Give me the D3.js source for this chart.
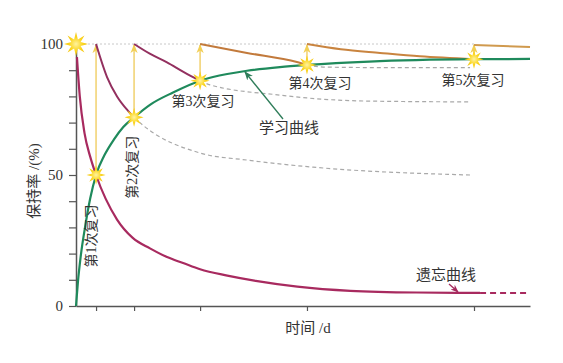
<!DOCTYPE html>
<html>
<head>
<meta charset="UTF-8">
<style>
  * { margin: 0; padding: 0; }
  body { background: #fff; }
  svg { display: block; }
  text { font-family: "Liberation Serif", "Noto Sans CJK SC", serif; fill: #333; }
</style>
<script src="https://cdn.jsdelivr.net/npm/d3@7"></script>
</head>
<body>
<svg id="chart" width="563" height="363"></svg>
<script>
// review days (tick positions) and retention at each review
var reviewDays = [1.06, 3.07, 6.56, 12.21, 21.04];
var reviewValues = [50, 72, 86, 92, 94.2];
var reviewLabels = ["第1次复习", "第2次复习", "第3次复习", "第4次复习", "第5次复习"];
var yTicks = [0, 10, 20, 30, 40, 50, 60, 70, 80, 90, 100];
var yTickLabels = { 0: "0", 50: "50", 100: "100" };

// learning curve
var learnDays = [0, 0.1, 0.25, 0.5, 0.75, 1.06, 1.5, 2, 2.5, 3.07, 3.91, 5.13, 6.56, 7.24, 9.04, 10.78, 12.21, 15.5, 21.04, 24];
var learnVals = [0, 9, 19, 31, 41, 50, 57.5, 63.5, 68.3, 72, 76.8, 81.5, 86, 87.4, 89.8, 91.2, 92, 93.3, 94.2, 94.3];

// forgetting curve without review
var forgetDays = [0.05, 0.2, 0.45, 0.75, 1.06, 2.17, 3.0, 3.91, 4.81, 5.66, 6.56, 8, 9.5, 11.7, 14.5, 18, 21.36];
var forgetVals = [95, 80, 66, 57, 50, 33, 26, 22, 18.7, 16.4, 14, 11.6, 9.6, 7.4, 5.8, 5.15, 5];
var forgetTailDays = [21.36, 24];
var forgetTailVals = [5, 5];

// forgetting after each review (solid part)
var decay1Days = [1.06, 1.64, 2.17, 2.75, 3.07];
var decay1Vals = [100, 87.4, 80, 74.5, 72];
var decay2Days = [3.07, 3.9, 4.81, 5.7, 6.56];
var decay2Vals = [100, 96.3, 93, 89.3, 86];
var decay3Days = [6.56, 9.04, 11.68, 12.21];
var decay3Vals = [100, 96.6, 93.1, 92];
var decay4Days = [12.21, 14, 16.07, 18.18, 21.04];
var decay4Vals = [100, 98, 96.6, 95.3, 94.2];
var decay5Days = [21.04, 24];
var decay5Vals = [99.6, 98.9];

// forgetting continuations if not reviewed again (dashed)
var cont1Days = [3.07, 3.54, 6.56, 9.04, 12.53, 20.83];
var cont1Vals = [72, 69, 58.4, 55.7, 53, 50];
var cont2Days = [6.56, 7.08, 10.78, 12.21, 15.54, 20.83];
var cont2Vals = [86, 84.4, 80.5, 79.4, 78.2, 77.9];
var cont3Days = [12.21, 13.06, 16.07, 20.83];
var cont3Vals = [92, 91.2, 91, 91];

var svg = d3.select("#chart");
var x = d3.scaleLinear().domain([0, 24]).range([76, 530]);
var y = d3.scaleLinear().domain([0, 100]).range([306, 44]);

function zip(a, b) { return a.map(function(d, i) { return [d, b[i]]; }); }

var line = d3.line()
  .x(function(d) { return x(d[0]); })
  .y(function(d) { return y(d[1]); })
  .curve(d3.curveMonotoneX);

var defs = svg.append("defs");
function marker(id, color, size) {
  defs.append("marker")
    .attr("id", id)
    .attr("viewBox", "0 0 10 10")
    .attr("refX", 9).attr("refY", 5)
    .attr("markerWidth", size).attr("markerHeight", size)
    .attr("markerUnits", "userSpaceOnUse")
    .attr("orient", "auto")
    .append("path")
    .attr("d", "M0,1 L10,5 L0,9 L3,5 Z")
    .attr("fill", color);
}
marker("arr-yellow", "#f2cf55", 9);
marker("arr-green", "#2f7d5a", 9);
marker("arr-red", "#a3285c", 8);

var grad = defs.append("radialGradient").attr("id", "star-grad");
grad.append("stop").attr("offset", "0%").attr("stop-color", "#fff3a0");
grad.append("stop").attr("offset", "55%").attr("stop-color", "#fbd51f");
grad.append("stop").attr("offset", "100%").attr("stop-color", "#f4c40e");

// dotted 100% reference
svg.append("line")
  .attr("x1", x(0)).attr("x2", x(reviewDays[4]))
  .attr("y1", y(100)).attr("y2", y(100))
  .attr("stroke", "#c8c8c8").attr("stroke-width", 1)
  .attr("stroke-dasharray", "2,2");

// axes
var yAxis = d3.axisLeft(y).tickValues(yTicks).tickSize(7).tickSizeOuter(0).tickPadding(6)
  .tickFormat(function(d) { return yTickLabels[d] || ""; });
var gy = svg.append("g").attr("transform", "translate(" + x(0) + ",0)").call(yAxis);

var xAxis = d3.axisBottom(x).tickValues(reviewDays).tickSize(5).tickSizeOuter(0).tickFormat("");
var gx = svg.append("g").attr("transform", "translate(0," + y(0) + ")").call(xAxis);

[gx, gy].forEach(function(g) {
  g.selectAll(".domain").attr("stroke", "#555").attr("stroke-width", 1.5);
  g.selectAll(".tick line").attr("stroke", "#555").attr("stroke-width", 1.2);
  g.selectAll(".tick text").attr("font-size", 15).attr("fill", "#333")
    .attr("font-family", "Liberation Serif, serif");
});

// dashed continuations
[[cont1Days, cont1Vals], [cont2Days, cont2Vals], [cont3Days, cont3Vals]].forEach(function(c) {
  svg.append("path")
    .attr("d", line(zip(c[0], c[1])))
    .attr("fill", "none").attr("stroke", "#a9a9a9")
    .attr("stroke-width", 1.2).attr("stroke-dasharray", "4,3");
});

// yellow review arrows
reviewDays.forEach(function(d, i) {
  svg.append("line")
    .attr("x1", x(d)).attr("x2", x(d))
    .attr("y1", y(reviewValues[i]) - 6).attr("y2", y(100) + 1)
    .attr("stroke", "#f2d477").attr("stroke-width", 1.6)
    .attr("marker-end", "url(#arr-yellow)");
});

// forgetting curves
svg.append("path").attr("d", line(zip(forgetDays, forgetVals)))
  .attr("fill", "none").attr("stroke", "#a82a5f").attr("stroke-width", 2.2);
svg.append("path").attr("d", line(zip(forgetTailDays, forgetTailVals)))
  .attr("fill", "none").attr("stroke", "#a82a5f").attr("stroke-width", 2)
  .attr("stroke-dasharray", "6,4");

var decays = [
  [decay1Days, decay1Vals, "#93305f"],
  [decay2Days, decay2Vals, "#93305f"],
  [decay3Days, decay3Vals, "#c27a3c"],
  [decay4Days, decay4Vals, "#c9843f"],
  [decay5Days, decay5Vals, "#d09a4e"]
];
decays.forEach(function(c) {
  svg.append("path").attr("d", line(zip(c[0], c[1])))
    .attr("fill", "none").attr("stroke", c[2]).attr("stroke-width", 2);
});

// learning curve
svg.append("path").attr("d", line(zip(learnDays, learnVals)))
  .attr("fill", "none").attr("stroke", "#1f8a5c").attr("stroke-width", 2.2);

// stars
function starPath(r1, r2, n) {
  var pts = d3.range(n * 2).map(function(i) {
    var a = i * Math.PI / n - Math.PI / 2;
    var r = i % 2 ? r2 : r1;
    return [Math.cos(a) * r, Math.sin(a) * r];
  });
  return "M" + pts.join("L") + "Z";
}
svg.append("path")
  .attr("d", starPath(12, 5, 8))
  .attr("transform", "translate(" + x(0) + "," + y(100) + ")")
  .attr("fill", "url(#star-grad)");
reviewDays.forEach(function(d, i) {
  svg.append("path")
    .attr("d", starPath(9.5, 4, 8))
    .attr("transform", "translate(" + x(d) + "," + y(reviewValues[i]) + ")")
    .attr("fill", "url(#star-grad)");
});

// review labels
var labelOffsets = [[-5, 61, true], [-2, 50, true], [3, 21, false], [13, 19, false], [-1, 21, false]];
reviewLabels.forEach(function(t, i) {
  var lx = x(reviewDays[i]) + labelOffsets[i][0];
  var ly = y(reviewValues[i]) + labelOffsets[i][1];
  svg.append("text")
    .attr("x", lx).attr("y", ly)
    .attr("text-anchor", "middle").attr("dominant-baseline", "central")
    .attr("font-size", 14)
    .attr("transform", labelOffsets[i][2] ? "rotate(-90," + lx + "," + ly + ")" : null)
    .text(t);
});

// learning curve callout
svg.append("line")
  .attr("x1", 283).attr("y1", 119).attr("x2", 245).attr("y2", 72)
  .attr("stroke", "#2f7d5a").attr("stroke-width", 1.3)
  .attr("marker-end", "url(#arr-green)");
svg.append("text").attr("x", 289).attr("y", 128)
  .attr("text-anchor", "middle").attr("dominant-baseline", "central")
  .attr("font-size", 15).text("学习曲线");

// forgetting curve callout
svg.append("line")
  .attr("x1", 449).attr("y1", 284).attr("x2", 458).attr("y2", 292)
  .attr("stroke", "#a3285c").attr("stroke-width", 1.3)
  .attr("marker-end", "url(#arr-red)");
svg.append("text").attr("x", 446).attr("y", 275)
  .attr("text-anchor", "middle").attr("dominant-baseline", "central")
  .attr("font-size", 15).text("遗忘曲线");

// axis titles
svg.append("text").attr("x", 308).attr("y", 328)
  .attr("text-anchor", "middle").attr("dominant-baseline", "central")
  .attr("font-size", 15).text("时间 /d");
svg.append("text").attr("x", 34).attr("y", 181)
  .attr("text-anchor", "middle").attr("dominant-baseline", "central")
  .attr("font-size", 15)
  .attr("transform", "rotate(-90,34,181)")
  .text("保持率 /(%)");
</script>
</body>
</html>
